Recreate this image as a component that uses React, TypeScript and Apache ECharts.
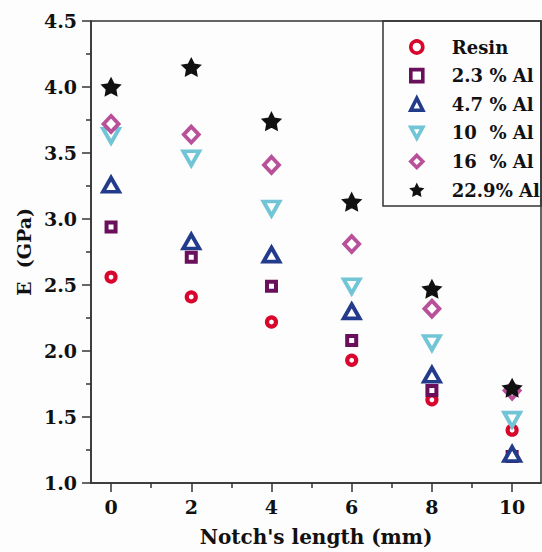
import React, { useEffect, useRef } from "react";
import * as echarts from "echarts";

const xValues = [0, 2, 4, 6, 8, 10];
const resin = [2.56, 2.41, 2.22, 1.93, 1.63, 1.4];
const al23 = [2.94, 2.71, 2.49, 2.08, 1.7, 1.2];
const al47 = [3.26, 2.83, 2.73, 2.3, 1.82, 1.22];
const al10 = [3.63, 3.46, 3.08, 2.49, 2.06, 1.48];
const al16 = [3.72, 3.64, 3.41, 2.81, 2.32, 1.7];
const al229 = [4.0, 4.15, 3.74, 3.13, 2.47, 1.72];

const seriesNames = ["Resin", "2.3 % Al", "4.7 % Al", "10  % Al", "16  % Al", "22.9% Al"];
const seriesColors = ["#d8062c", "#6a0f5c", "#223b8a", "#72c5d6", "#b8509a", "#111111"];
const majorXTicks = [0, 2, 4, 6, 8, 10];
const minorXTicks = [1, 3, 5, 7, 9];

const FONT = "DejaVu Serif";
const STAR = "path://M10,0 L12.94,5.95 L19.51,6.91 L14.76,11.55 L15.88,18.09 L10,15 L4.12,18.09 L5.24,11.55 L0.49,6.91 L7.06,5.95 Z";
const DOWN = "path://M0,0 L20,0 L10,18 Z";
const symbols = ["circle", "rect", "triangle", DOWN, "diamond", STAR];
const sizes: any[] = [9, 9, [16, 14], [16, 14], [15, 16], [17, 16]];
const borderWidths = [4.2, 4, 3.8, 3.8, 3.8, 2];

const pair = (ys: number[]) => xValues.map((x, i) => [x, ys[i]]);
const allValues = [resin, al23, al47, al10, al16, al229];

export default function App() {
  const ref = useRef<HTMLDivElement>(null);
  useEffect(() => {
    if (!ref.current) return;
    const chart = echarts.init(ref.current, null, { renderer: "svg" });
    const axisColor = "#333";
    const styleFor = (i: number) =>
      i === 5
        ? { color: seriesColors[i], borderColor: seriesColors[i], borderWidth: borderWidths[i], opacity: 1 }
        : { color: "#ffffff", borderColor: seriesColors[i], borderWidth: borderWidths[i], opacity: 1 };
    chart.setOption({
      animation: false,
      backgroundColor: "#fdfdfd",
      grid: { left: 91, right: 1, top: 21, bottom: 67, show: true, borderColor: axisColor, borderWidth: 1.5 },
      xAxis: [
        {
          type: "value",
          min: -0.5,
          max: 10.72,
          position: "bottom",
          name: "Notch's length (mm)",
          nameLocation: "middle",
          nameGap: 44,
          nameTextStyle: { fontFamily: FONT, fontWeight: "bold", fontSize: 20, color: "#111" },
          axisLine: { show: true, onZero: false, lineStyle: { color: axisColor, width: 1.5 } },
          axisTick: { show: true, inside: false, length: 9, customValues: majorXTicks, lineStyle: { color: axisColor, width: 1.5 } },
          axisLabel: { customValues: majorXTicks, margin: 14, fontFamily: FONT, fontWeight: "bold", fontSize: 19, color: "#111" },
          splitLine: { show: false },
        },
        {
          type: "value",
          min: -0.5,
          max: 10.72,
          position: "bottom",
          axisLine: { show: false, onZero: false },
          axisTick: { show: true, length: 5, customValues: minorXTicks, lineStyle: { color: axisColor, width: 1.5 } },
          axisLabel: { show: false },
          splitLine: { show: false },
        },
      ],
      yAxis: {
        type: "value",
        min: 1,
        max: 4.5,
        interval: 0.5,
        name: "E  (GPa)",
        nameLocation: "middle",
        nameGap: 58,
        nameTextStyle: { fontFamily: FONT, fontWeight: "bold", fontSize: 19, color: "#111" },
        axisLine: { show: true, onZero: false, lineStyle: { color: axisColor, width: 1.5 } },
        axisTick: { show: true, length: 9, lineStyle: { color: axisColor, width: 1.5 } },
        minorTick: { show: true, splitNumber: 2, length: 5, lineStyle: { color: axisColor, width: 1.5 } },
        axisLabel: { margin: 14, fontFamily: FONT, fontWeight: "bold", fontSize: 19, color: "#111", formatter: (v: number) => v.toFixed(1) },
        splitLine: { show: false },
      },
      legend: {
        orient: "vertical",
        left: 409,
        top: 37,
        padding: 0,
        itemWidth: 12,
        itemHeight: 12,
        itemGap: 8.6,
        data: seriesNames.map((n, i) => ({
          name: n,
          itemStyle: i === 5
            ? { color: seriesColors[i], borderColor: seriesColors[i], borderWidth: 1.5, opacity: 1 }
            : { color: "#ffffff", borderColor: seriesColors[i], borderWidth: 3.6, opacity: 1 },
        })),
        textStyle: { fontFamily: FONT, fontWeight: "bold", fontSize: 18, color: "#111", padding: [0, 0, 0, 24], lineHeight: 20 },
      },
      graphic: [
        {
          type: "rect",
          shape: { x: 383, y: 21, width: 158, height: 185 },
          style: { fill: "none", stroke: axisColor, lineWidth: 1.5 },
          z: 100,
        },
      ],
      series: seriesNames.map((n, i) => ({
        name: n,
        type: "scatter",
        data: pair(allValues[i]),
        symbol: symbols[i],
        symbolSize: sizes[i],
        itemStyle: styleFor(i),
        emphasis: { disabled: true },
      })),
    });
    return () => chart.dispose();
  }, []);
  return <div ref={ref} style={{ position: "absolute", left: 0, top: 0, width: 542, height: 552 }} />;
}
